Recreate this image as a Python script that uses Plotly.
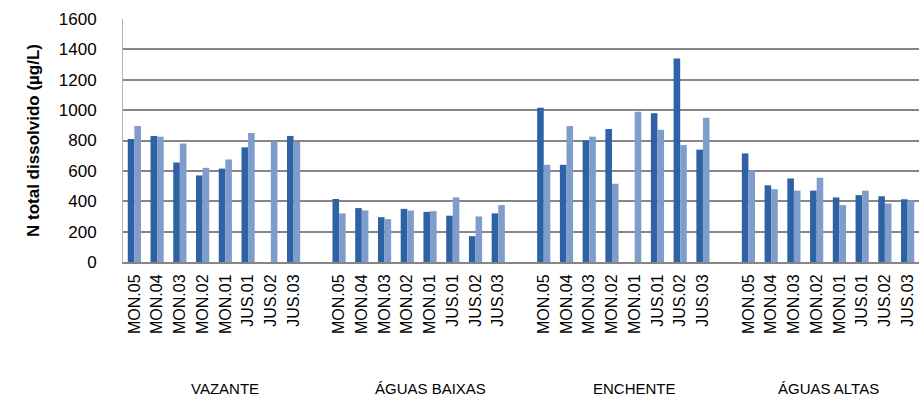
import plotly.graph_objects as go

stations = ["MON.05", "MON.04", "MON.03", "MON.02", "MON.01", "JUS.01", "JUS.02", "JUS.03"]
groups = ["VAZANTE", "ÁGUAS BAIXAS", "ENCHENTE", "ÁGUAS ALTAS"]

# series 1 (dark blue) per group
dark_vazante = [810, 830, 655, 570, 615, 755, None, 830]
dark_baixas = [415, 355, 295, 350, 330, 305, 170, 320]
dark_enchente = [1015, 640, 800, 875, None, 980, 1340, 740]
dark_altas = [715, 505, 550, 470, 425, 440, 433, 413]

# series 2 (light blue) per group
light_vazante = [895, 825, 780, 620, 675, 850, 795, 790]
light_baixas = [320, 340, 282, 339, 335, 425, 300, 375]
light_enchente = [640, 895, 825, 515, 990, 870, 770, 950]
light_altas = [600, 480, 470, 555, 375, 470, 385, 405]

dark_all = [dark_vazante, dark_baixas, dark_enchente, dark_altas]
light_all = [light_vazante, light_baixas, light_enchente, light_altas]

slot = len(stations) + 1  # one empty category between groups
xs, labels, dv, lv = [], [], [], []
for g in range(len(groups)):
    for s, name in enumerate(stations):
        xs.append(g * slot + s)
        labels.append(name)
        dv.append(dark_all[g][s])
        lv.append(light_all[g][s])

fig = go.Figure()
fig.add_trace(go.Bar(x=xs, y=dv, marker=dict(color="#2E62A4", line=dict(width=0)), showlegend=False))
fig.add_trace(go.Bar(x=xs, y=lv, marker=dict(color="#7F9DCB", line=dict(width=0)), showlegend=False))

last = xs[-1]
for g, gname in enumerate(groups):
    start = g * slot - 0.5
    end = min(g * slot + slot - 0.5, last + 0.5)
    fig.add_annotation(x=(start + end) / 2, y=-0.52, xref="x", yref="paper",
                       text=gname, showarrow=False, yanchor="middle",
                       font=dict(family="Liberation Sans", size=15, color="#000000"))

fig.update_layout(
    width=919, height=402,
    margin=dict(l=123, r=0, t=19, b=140),
    paper_bgcolor="white", plot_bgcolor="white",
    barmode="group", bargap=0.42, bargroupgap=0,
    font=dict(family="Liberation Sans", color="#000000"),
)
fig.update_xaxes(
    range=[-0.5, last + 0.5], automargin=False,
    tickmode="array", tickvals=xs, ticktext=labels, tickangle=-90,
    tickfont=dict(size=16, color="#000000"),
    ticks="", ticklabelstandoff=4,
    showgrid=False, showline=True, linecolor="#868686", linewidth=2, zeroline=False,
)
fig.update_yaxes(
    range=[0, 1600], dtick=200, automargin=False,
    tickfont=dict(size=17, color="#000000"),
    ticks="", ticklabelstandoff=22,
    showgrid=True, gridcolor="#868686", gridwidth=1.5,
    showline=True, linecolor="#b4b4b4", linewidth=1,
    zeroline=False,
    title=dict(text="<b>N total dissolvido (µg/L)</b>", font=dict(size=17, color="#000000"), standoff=14),
)

fig.write_html("out.html", config={"displayModeBar": False},
               post_script="document.body.style.margin='0px';document.body.style.overflow='hidden';")
